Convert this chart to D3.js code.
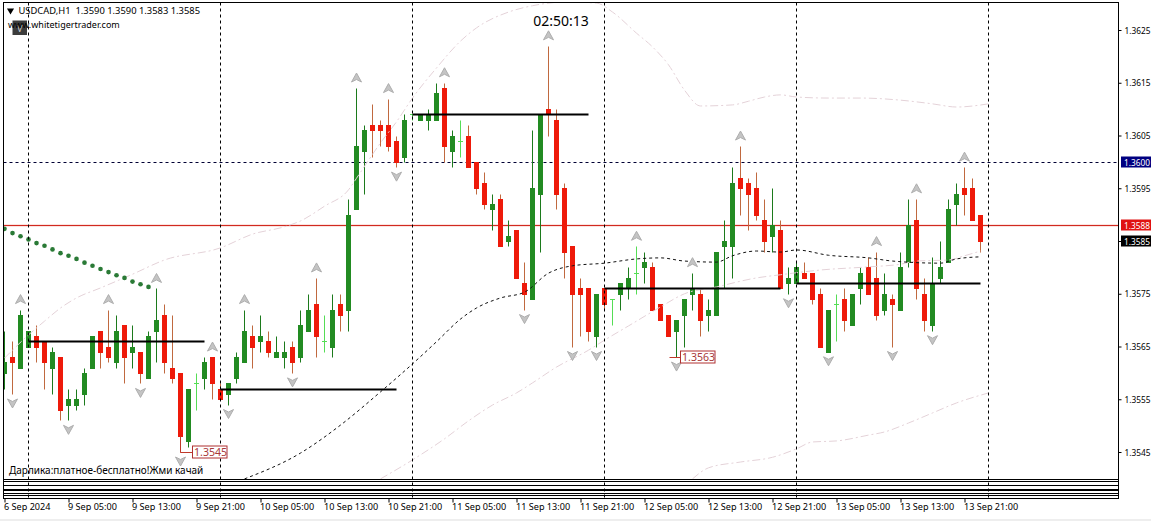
<!DOCTYPE html>
<html><head><meta charset="utf-8">
<script src="https://cdn.jsdelivr.net/npm/d3@7/dist/d3.min.js"></script>
<style>html,body{margin:0;padding:0;background:#fff;overflow:hidden}svg{display:block}text{font-family:"Noto Sans","DejaVu Sans",sans-serif}</style>
</head><body><div id="c"></div>
<script>
const opens=[1.3560,1.3563,1.3561,1.3565,1.3567,1.3566,1.3561,1.3563,1.3554,1.3554,
1.3556,1.3561,1.3568,1.3565,1.3562,1.3569,1.3564,1.3564,1.3559,1.3568,
1.3571,1.3561,1.3560,1.3547,1.3558,1.3559,1.3563,1.3557,1.3556,1.3559,
1.3562,1.3567,1.3566,1.3566,1.3563,1.3563,1.3565,1.3563,1.3568,1.3573,
1.3566,1.3565,1.3573,1.3572,1.3591,1.3602,1.3607,1.3607,1.3607,1.3604,
1.3601,1.3609,1.3608,1.3608,1.3608,1.3614,1.3602,1.3604,1.3605,1.3600,
1.3596,1.3591,1.3593,1.3585,1.3587,1.3577,1.3574,1.3594,1.3610,1.3608,
1.3595,1.3584,1.3576,1.3576,1.3567,1.3576,1.3574,1.3575,1.3576,1.3579,
1.3580,1.3580,1.3573,1.3571,1.3568,1.3571,1.3575,1.3575,1.3571,1.3571,
1.3584,1.3584,1.3597,1.3596,1.3595,1.3589,1.3586,1.3587,1.3577,1.3577,
1.3579,1.3579,1.3575,1.3564,1.3573,1.3574,1.3569,1.3576,1.3580,1.3578,
1.3572,1.3574,1.3572,1.3581,1.3589,1.3575,1.3569,1.3578,1.3581,1.3592,
1.3595,1.3595,1.3590];
const closes=[1.3562,1.3562,1.3571,1.3568,1.3565,1.3562,1.3564,1.3553,1.3555,1.3555,
1.3560,1.3567,1.3564,1.3563,1.3568,1.3563,1.3565,1.3560,1.3567,1.3570,
1.3562,1.3559,1.3548,1.3557,1.3558,1.3562,1.3558,1.3555,1.3558,1.3563,
1.3568,1.3565,1.3567,1.3564,1.3564,1.3564,1.3562,1.3569,1.3572,1.3567,
1.3566,1.3572,1.3571,1.3590,1.3603,1.3606,1.3606,1.3606,1.3603,1.3600,
1.3608,1.3609,1.3609,1.3609,1.3613,1.3603,1.3605,1.3604,1.3599,1.3595,
1.3592,1.3592,1.3584,1.3586,1.3578,1.3575,1.3595,1.3609,1.3609,1.3594,
1.3583,1.3575,1.3575,1.3568,1.3575,1.3573,1.3574,1.3577,1.3578,1.3579,
1.3581,1.3572,1.3570,1.3567,1.3570,1.3574,1.3576,1.3570,1.3572,1.3583,
1.3585,1.3596,1.3595,1.3594,1.3590,1.3585,1.3588,1.3576,1.3578,1.3580,
1.3578,1.3574,1.3565,1.3572,1.3573,1.3570,1.3575,1.3579,1.3575,1.3571,
1.3575,1.3573,1.3580,1.3588,1.3576,1.3570,1.3577,1.3580,1.3591,1.3594,
1.3594,1.3589,1.3585];
const highs=[1.3568,1.3566,1.3572,1.3568,1.3569,1.3566,1.3565,1.3563,1.3557,1.3557,
1.3561,1.3567,1.3568,1.3572,1.3571,1.3569,1.3569,1.3564,1.3568,1.3576,
1.3573,1.3571,1.3560,1.3557,1.3560,1.3563,1.3563,1.3558,1.3558,1.3564,
1.3572,1.3569,1.3571,1.3568,1.3567,1.3566,1.3566,1.3572,1.3575,1.3578,
1.3571,1.3575,1.3575,1.3593,1.3614,1.3607,1.3611,1.3608,1.3612,1.3605,
1.3609,1.3609,1.3609,1.3610,1.3615,1.3615,1.3606,1.3608,1.3607,1.3600,
1.3598,1.3594,1.3594,1.3589,1.3587,1.3581,1.3606,1.3609,1.3622,1.3610,
1.3596,1.3584,1.3578,1.3576,1.3575,1.3576,1.3574,1.3577,1.3580,1.3584,
1.3583,1.3581,1.3573,1.3571,1.3570,1.3574,1.3579,1.3576,1.3574,1.3583,
1.3589,1.3599,1.3603,1.3597,1.3598,1.3593,1.3595,1.3589,1.3580,1.3581,
1.3581,1.3579,1.3576,1.3572,1.3575,1.3576,1.3575,1.3580,1.3582,1.3583,
1.3579,1.3575,1.3583,1.3593,1.3593,1.3578,1.3582,1.3585,1.3593,1.3596,
1.3599,1.3597,1.3590];
const lows=[1.3557,1.3556,1.3561,1.3565,1.3562,1.3557,1.3556,1.3551,1.3551,1.3553,
1.3554,1.3561,1.3561,1.3562,1.3561,1.3558,1.3561,1.3558,1.3559,1.3562,
1.3560,1.3558,1.3545,1.3546,1.3553,1.3557,1.3555,1.3555,1.3554,1.3558,
1.3562,1.3561,1.3564,1.3563,1.3563,1.3561,1.3560,1.3562,1.3568,1.3563,
1.3564,1.3563,1.3568,1.3568,1.3591,1.3594,1.3601,1.3603,1.3602,1.3599,
1.3600,1.3608,1.3608,1.3606,1.3608,1.3600,1.3599,1.3601,1.3599,1.3594,
1.3591,1.3587,1.3584,1.3584,1.3578,1.3572,1.3574,1.3583,1.3605,1.3591,
1.3578,1.3565,1.3567,1.3566,1.3565,1.3572,1.3569,1.3572,1.3574,1.3575,
1.3577,1.3572,1.3570,1.3567,1.3563,1.3565,1.3572,1.3567,1.3568,1.3571,
1.3576,1.3578,1.3590,1.3587,1.3589,1.3583,1.3583,1.3576,1.3575,1.3577,
1.3578,1.3573,1.3565,1.3564,1.3566,1.3568,1.3569,1.3573,1.3575,1.3570,
1.3571,1.3565,1.3572,1.3580,1.3574,1.3568,1.3568,1.3577,1.3581,1.3588,
1.3590,1.3589,1.3583];

const upperIdx=[0,3,5,7,9,12,16,20,27,31,35,37,40,43,44,47,49,51,54,57,59,63,66,70,74,76,79,81,83,85,87,91,93,95,97,99,103,107,112,116,119,123];
const upperVal=[1.35628,1.35672,1.35698,1.35723,1.35742,1.35761,1.35787,1.35814,1.35837,1.35863,1.35877,1.35888,1.35916,1.35947,1.35969,1.36036,1.36076,1.36121,1.36178,1.36229,1.36254,1.36284,1.36296,1.36303,1.36301,1.36284,1.36244,1.36218,1.36184,1.36136,1.36106,1.36108,1.36115,1.36123,1.36127,1.36123,1.36121,1.36121,1.36117,1.3611,1.36104,1.3611];
const midIdx=[47,51,55,58,61,64,66,69,73,75,78,82,85,89,94,97,102,108,112,114,118,120,122];
const midVal=[1.35399,1.35435,1.35475,1.35509,1.35539,1.35562,1.35581,1.35611,1.35643,1.35662,1.35689,1.35725,1.3575,1.35763,1.3578,1.35786,1.35795,1.35801,1.35806,1.35812,1.35814,1.35822,1.35831];
const lowerIdx=[86,88,92,96,99,101,104,108,110,113,116,119,123];
const lowerVal=[1.35399,1.3542,1.35431,1.3544,1.35456,1.35469,1.35471,1.35482,1.35488,1.35505,1.35524,1.35543,1.35562];
const maIdx=[30,37,42,47,51,54,57,59,62,65,68,71,75,79,82,85,89,91,94,97,99,103,108,111,117,119,122];
const maVal=[1.35399,1.35448,1.35501,1.35564,1.35617,1.35659,1.35702,1.35723,1.35742,1.35753,1.35789,1.35803,1.35808,1.35816,1.35818,1.35812,1.3581,1.35822,1.35831,1.35829,1.35833,1.35823,1.35818,1.35812,1.35808,1.35816,1.3582];
const trendDots=[1.35873,1.35865,1.35859,1.35853,1.35846,1.35841,1.35834,1.35827,1.35822,1.35816,1.35809,1.35803,1.35797,1.35791,1.35785,1.3578,1.35773,1.35768,1.35763];
const fractalUp=[2,13,19,26,30,39,44,48,55,68,79,86,92,109,114,120];
const fractalDown=[1,8,17,22,28,36,49,65,71,74,84,98,103,111,116];
const levelStart=[3,27,51,75,99];
const levelEnd=[25,49,73,97,122];
const levelPrice=[1.3566,1.3557,1.3609,1.3576,1.3577];
const sessionBars=[3,27,51,75,99,123];
const priceTicks=[1.3625,1.3615,1.3605,1.3595,1.3585,1.3575,1.3565,1.3555,1.3545];
const timeLabels=["6 Sep 2024","9 Sep 05:00","9 Sep 13:00","9 Sep 21:00","10 Sep 05:00","10 Sep 13:00","10 Sep 21:00","11 Sep 05:00","11 Sep 13:00","11 Sep 21:00","12 Sep 05:00","12 Sep 13:00","12 Sep 21:00","13 Sep 05:00","13 Sep 13:00","13 Sep 21:00"];
const priceTagBars=[22,84];
const priceTagValues=[1.3545,1.3563];
const resistanceLine=1.3600, bidLine=1.3588, lastPrice=1.3585;
const titleText="USDCAD,H1  1.3590 1.3590 1.3583 1.3585";
const siteText="www.whitetigertrader.com";
const promoText="Дарлика:платное-бесплатно!Жми качай";
const countdown="02:50:13";
const subLines=[0,1,2,3,4,5,6,7];

const W=1151,H=521,L=3.5,R=1118.5,T=2.5,B=479.5,SB=498.5;
const svg=d3.select("#c").append("svg").attr("width",W).attr("height",H);
const x=d3.scaleLinear().domain([0,123]).range([4.5,988.5]);
const y=d3.scaleLinear().domain([1.3545,1.3625]).range([452,30]);
const py=p=>Math.round(y(p))+.5;
svg.append("defs").append("clipPath").attr("id","pl").append("rect").attr("x",L).attr("y",T).attr("width",R-L).attr("height",B-T);
const plot=svg.append("g").attr("clip-path","url(#pl)");

// grid
svg.append("g").selectAll("line").data(sessionBars).join("line")
 .attr("x1",d=>x(d)).attr("x2",d=>x(d)).attr("y1",T).attr("y2",SB)
 .attr("stroke","#000").attr("stroke-dasharray","3,3");
plot.append("line").attr("x1",L).attr("x2",R).attr("y1",py(resistanceLine)).attr("y2",py(resistanceLine))
 .attr("stroke","#000033").attr("stroke-dasharray","3,3");
plot.append("line").attr("x1",L).attr("x2",R).attr("y1",py(bidLine)).attr("y2",py(bidLine)).attr("stroke","#fbe3e0").attr("stroke-width",3);
plot.append("line").attr("x1",L).attr("x2",R).attr("y1",py(bidLine)).attr("y2",py(bidLine)).attr("stroke","#d12a20");

// candles
const bars=d3.range(opens.length);
const g=plot.append("g");
g.selectAll("line.w").data(bars).join("line").attr("class","w")
 .attr("x1",i=>x(i)).attr("x2",i=>x(i)).attr("y1",i=>py(highs[i])).attr("y2",i=>py(lows[i]))
 .attr("stroke",i=>opens[i]===closes[i]?"#55dd55":closes[i]>opens[i]?"#1c7a1c":"#c0693f");
g.selectAll("rect.b").data(bars.filter(i=>opens[i]!==closes[i])).join("rect").attr("class","b")
 .attr("x",i=>x(i)-2.5).attr("width",5)
 .attr("y",i=>py(Math.max(opens[i],closes[i]))-.5)
 .attr("height",i=>py(Math.min(opens[i],closes[i]))-py(Math.max(opens[i],closes[i]))+1)
 .attr("fill",i=>closes[i]>opens[i]?"#228b22":"#ee1a0a");
g.selectAll("line.d").data(bars.filter(i=>opens[i]===closes[i])).join("line").attr("class","d")
 .attr("x1",i=>x(i)-2.5).attr("x2",i=>x(i)+2.5).attr("y1",i=>py(closes[i])).attr("y2",i=>py(closes[i]))
 .attr("stroke","#55dd55");

// bands
const ln=d3.line().x(d=>x(d[0])).y(d=>y(d[1])).curve(d3.curveMonotoneX);
function band(ix,val,st,da){plot.append("path").datum(ix.map((d,k)=>[d,val[k]])).attr("d",ln).attr("fill","none").attr("stroke",st).attr("stroke-dasharray",da);}
band(upperIdx,upperVal,"#e4d2d8","8,3,2,3");
band(midIdx,midVal,"#e4d2d8","8,3,2,3");
band(lowerIdx,lowerVal,"#e4d2d8","8,3,2,3");
band(maIdx,maVal,"#111","3,3");

// trend dots
plot.append("g").selectAll("path").data(trendDots).join("path")
 .attr("transform",(d,i)=>`translate(${x(i)},${y(d)})`)
 .attr("d",d3.symbol(d3.symbolCircle,17))
 .attr("fill","#2a7a36");

// levels
plot.append("g").selectAll("line").data(levelPrice).join("line")
 .attr("x1",(d,i)=>x(levelStart[i])).attr("x2",(d,i)=>x(levelEnd[i]))
 .attr("y1",d=>py(d)).attr("y2",d=>py(d)).attr("stroke","#000").attr("stroke-width",2);

// fractals
const arrow="M0,-5L5,4L0,1.5L-5,4Z";
plot.append("g").selectAll("path").data(fractalUp).join("path")
 .attr("transform",i=>`translate(${x(i)},${y(highs[i])-10})`).attr("d",arrow)
 .attr("fill","#c4c4c4").attr("stroke","#aeaeae").attr("stroke-width",1);
plot.append("g").selectAll("path").data(fractalDown).join("path")
 .attr("transform",i=>`translate(${x(i)},${y(lows[i])+9}) scale(1,-1)`).attr("d",arrow)
 .attr("fill","#c4c4c4").attr("stroke","#aeaeae").attr("stroke-width",1);

// price tags
const tag=svg.append("g").selectAll("g").data(priceTagBars).join("g");
tag.append("path").attr("fill","none").attr("stroke","#c0392b").attr("d",(b,k)=>{
  const xb=x(b),yp=py(priceTagValues[k]);
  return k===0?`M${xb},${y(closes[b])}V${yp}H${xb+12}`:`M${xb-7},${yp}H${xb+5}`;});
tag.append("rect").attr("x",(b,k)=>x(b)+(k===0?12:4)).attr("y",(b,k)=>py(priceTagValues[k])-6.5).attr("width",34.5).attr("height",12)
 .attr("fill","#fff").attr("stroke","#b03030");
tag.append("text").attr("x",(b,k)=>x(b)+(k===0?13.5:5.5)).attr("y",(b,k)=>py(priceTagValues[k])+3.5)
 .attr("font-size",10.6).attr("fill","#a83a3a").text((b,k)=>priceTagValues[k].toFixed(4));

// frame
svg.append("rect").attr("x",L).attr("y",T).attr("width",R-L).attr("height",SB-T).attr("fill","none").attr("stroke","#000");
const subY=d3.scaleOrdinal().domain(subLines).range([479.5,481.5,485.5,489.5,490.5,493.5,495.5,498.5]);
svg.append("g").selectAll("line").data(subLines).join("line").attr("x1",L).attr("x2",R)
 .attr("y1",d=>subY(d)).attr("y2",d=>subY(d)).attr("stroke","#000");

// axes
const ya=d3.axisRight(y).tickValues(priceTicks).tickFormat(d3.format(".4f")).tickSize(3).tickPadding(3);
const yg=svg.append("g").attr("transform",`translate(${R},0)`).call(ya);
yg.select(".domain").remove();
yg.selectAll("text").attr("font-size",9.5).attr("fill","#000").attr("textLength",26).attr("lengthAdjust","spacingAndGlyphs");
yg.selectAll("line").attr("stroke","#000");
const tickBars=timeLabels.map((d,i)=>i*8);
const xa=d3.axisBottom(x).tickValues(tickBars).tickFormat((d,i)=>timeLabels[i]).tickSize(4).tickPadding(1);
const xg=svg.append("g").attr("transform",`translate(0,${SB})`).call(xa);
xg.select(".domain").remove();
xg.selectAll("text").attr("font-size",9.1).attr("fill","#000").attr("text-anchor","start").attr("dx",-1);
xg.selectAll("line").attr("stroke","#000");

// right tags
const tags=[[resistanceLine,"#000080"],[bidLine,"#e01212"],[lastPrice,"#000"]];
const tg=svg.append("g").selectAll("g").data(tags).join("g");
tg.append("rect").attr("x",1121).attr("width",30).attr("y",d=>py(d[0])-6).attr("height",11).attr("fill",d=>d[1]);
tg.append("text").attr("x",1124).attr("y",d=>py(d[0])+3.5).attr("font-size",9.5).attr("fill","#fff").attr("textLength",26).attr("lengthAdjust","spacingAndGlyphs").text(d=>d[0].toFixed(4));

// header text
svg.append("path").attr("d",d3.symbol(d3.symbolTriangle,22)).attr("transform","translate(10.5,10.5) rotate(180)").attr("fill","#000");
svg.append("text").attr("x",18.5).attr("y",14).attr("font-size",9.4).attr("fill","#000").style("white-space","pre").text(titleText);
svg.append("rect").attr("x",12.5).attr("y",20.5).attr("width",14.5).attr("height",14.5).attr("fill","#3c3c3c");
svg.append("text").attr("x",19.7).attr("y",32).attr("font-size",9).attr("text-anchor","middle").attr("fill","#ccc").text("V");
svg.append("text").attr("x",8).attr("y",27.5).attr("font-size",9).attr("fill","#000").text(siteText);
svg.append("text").attr("x",561).attr("y",26).attr("font-size",14).attr("text-anchor","middle").attr("fill","#000").text(countdown);
svg.append("text").attr("x",9).attr("y",473.5).attr("font-size",10).attr("fill","#000").text(promoText);
svg.append("rect").attr("x",0).attr("y",519).attr("width",W).attr("height",2).attr("fill","#eeeeee");
</script></body></html>
